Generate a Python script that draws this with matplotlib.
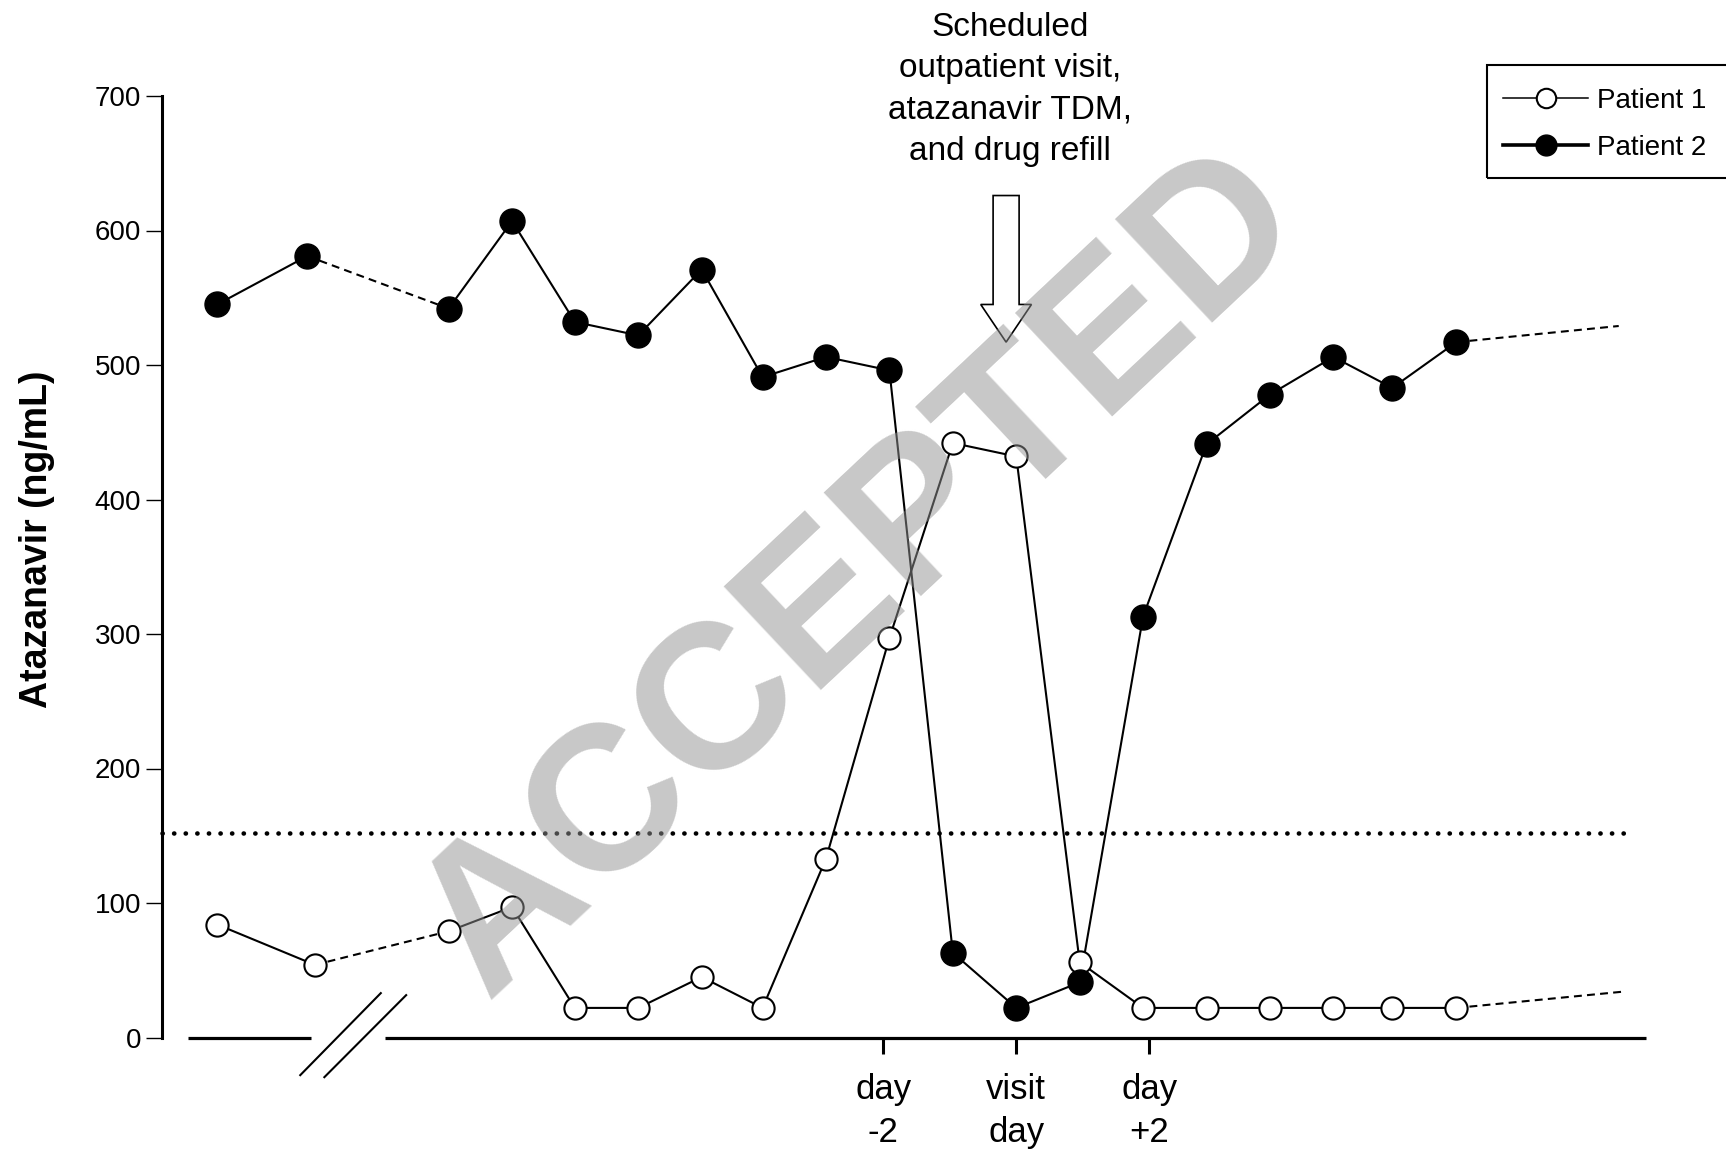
import numpy as np
import matplotlib.pyplot as plt
from matplotlib.lines import Line2D
from matplotlib.patches import FancyArrow, Rectangle

plt.rcParams['font.family'] = ['Liberation Sans', 'DejaVu Sans']

# sampling days relative to the scheduled visit
days_p1 = [-12.6, -11.06, -8.95, -7.95, -6.96, -5.96, -4.96, -4.0, -3.0, -2.0,
           -1.0, 0.0, 1.0, 2.0, 3.0, 4.0, 5.0, 5.93, 6.94]
conc_p1 = [84, 54, 79, 97, 22, 22, 45, 22, 133, 297,
           442, 432, 56, 22, 22, 22, 22, 22, 22]
days_p2 = [-12.6, -11.18, -8.95, -7.95, -6.96, -5.96, -4.96, -4.0, -3.0, -2.0,
           -1.0, 0.0, 1.0, 2.0, 3.0, 4.0, 5.0, 5.93, 6.94]
conc_p2 = [545, 581, 542, 607, 532, 522, 571, 491, 506, 496,
           63, 22, 41, 313, 441, 478, 506, 483, 517]

# where the dashed continuation lines end
ext_p1 = (9.55, 34)
ext_p2 = (9.5, 529)

threshold = 152          # dotted reference line
threshold_end = 9.67

tick_pos = [-2.1, 0, 2.1]
tick_labels = ['day\n-2', 'visit\nday', 'day\n+2']

xmin, xmax = -13.47, 9.93

fig = plt.figure(figsize=(17.26, 11.55), dpi=100)
W, H = 1726, 1155
ax = fig.add_axes([162 / W, 117.5 / H, 1484 / W, 941.5 / H])
ax.set_xlim(xmin, xmax)
ax.set_ylim(0, 700)

for s in ['top', 'right', 'bottom']:
    ax.spines[s].set_visible(False)
ax.spines['left'].set_linewidth(2.2)
ax.spines['left'].set_bounds(0, 700)

ax.set_yticks(np.arange(0, 701, 100))
ax.tick_params(axis='y', direction='out', length=11.5, width=1.0,
               labelsize=20, pad=3.5)
ax.set_xticks(tick_pos)
ax.set_xticklabels(tick_labels, linespacing=1.38)
ax.tick_params(axis='x', direction='out', length=11.5, width=2.2,
               labelsize=25, pad=14)

# broken x axis
ax.plot([-13.06, -11.12], [0, 0], color='black', lw=2.3, clip_on=False,
        solid_capstyle='butt')
ax.plot([-9.95, xmax], [0, 0], color='black', lw=2.3, clip_on=False,
        solid_capstyle='butt')
ax.plot([-11.29, -10.02], [-28, 33], color='black', lw=1.5, clip_on=False)
ax.plot([-10.91, -9.62], [-29.5, 31.5], color='black', lw=1.5, clip_on=False)

# threshold
ax.plot([xmin, threshold_end], [threshold, threshold], color='black', lw=3.3,
        linestyle=(0, (0.05, 2.48)), dash_capstyle='round', clip_on=False)

dash = (0, (3.8, 2.5))


def draw_patient(days, conc, ext, filled):
    ax.plot(days[:2], conc[:2], color='black', lw=1.5, zorder=2)
    ax.plot(days[1:3], conc[1:3], color='black', lw=1.5, ls=dash, zorder=2)
    ax.plot(days[2:], conc[2:], color='black', lw=1.5, zorder=2)
    ax.plot([days[-1], ext[0]], [conc[-1], ext[1]], color='black', lw=1.5,
            ls=dash, zorder=2, clip_on=False)
    if filled:
        ax.plot(days, conc, 'o', ms=18, mfc='black', mec='black', mew=1,
                zorder=4)
    else:
        ax.plot(days, conc, 'o', ms=16, mfc='white', mec='black', mew=1.5,
                zorder=3)


draw_patient(days_p1, conc_p1, ext_p1, False)
draw_patient(days_p2, conc_p2, ext_p2, True)

# hollow arrow for the visit
arrow = FancyArrow(-0.16, 626, 0, -109, width=0.41, head_width=0.80,
                   head_length=28, length_includes_head=True,
                   fc='white', ec='black', lw=1.2, zorder=5)
ax.add_patch(arrow)

fig.text(1010 / W, 1 - 12 / H,
         'Scheduled\noutpatient visit,\natazanavir TDM,\nand drug refill',
         ha='center', va='top', fontsize=24, linespacing=1.43)

fig.text(37 / W, 1 - 539 / H, 'Atazanavir (ng/mL)', rotation=90,
         ha='center', va='center', fontsize=27, weight='bold')

# legend
handles = [
    Line2D([], [], color='black', lw=1.1, marker='o', ms=14, mfc='white',
           mec='black', mew=1.5),
    Line2D([], [], color='black', lw=2.6, marker='o', ms=15, mfc='black',
           mec='black'),
]
fig.legend(handles, ['Patient 1', 'Patient 2'], loc='upper left',
           bbox_to_anchor=(1503 / W, 1 - 88 / H), frameon=False, fontsize=20,
           handlelength=3.06, handletextpad=0.32, labelspacing=0.75,
           borderpad=0, borderaxespad=0)
fig.patches.append(Rectangle((1487 / W, 1 - 178 / H), 300 / W, 113 / H,
                             transform=fig.transFigure, fill=False,
                             ec='black', lw=1.5))

# watermark
fig.text(862 / W, 1 - 574 / H, 'ACCEPTED', rotation=43.2, ha='center',
         va='center', rotation_mode='anchor', fontsize=148, weight='bold',
         color='0.57', alpha=0.5, zorder=10)

fig.savefig('out.png', dpi=100)
